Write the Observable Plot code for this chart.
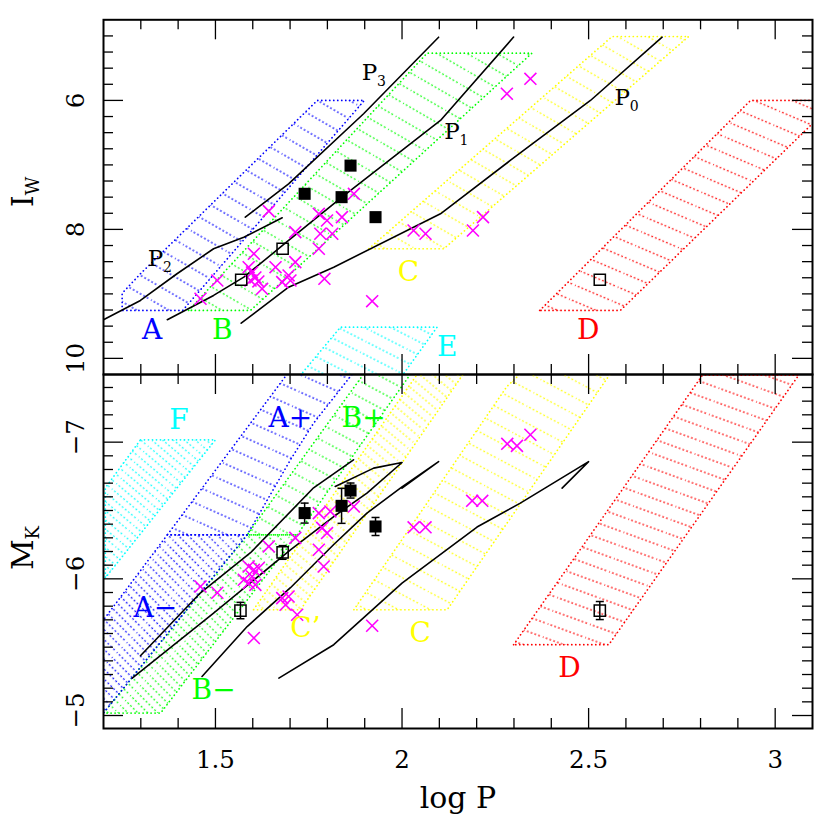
<!DOCTYPE html>
<html>
<head>
<meta charset="utf-8">
<script src="https://cdn.jsdelivr.net/npm/d3@7"></script>
<script src="https://cdn.jsdelivr.net/npm/@observablehq/plot@0.6"></script>
<style>
html,body{margin:0;padding:0;background:#fff;}
#wrap{position:relative;width:830px;height:830px;overflow:hidden;background:#fff;}
</style>
</head>
<body>
<div id="wrap"></div>
<script>
// ---------------- data ----------------
const xMajor = [1.5, 2, 2.5, 3];
const xMinor = d3.range(13, 31).map(v => v / 10).filter(v => !xMajor.includes(v));
const iwMajor = [6, 8, 10];
const iwMinor = d3.range(20, 41).map(v => v / 4).filter(v => !iwMajor.includes(v));
const mkMajor = [-7, -6, -5];
const mkMinor = d3.range(-74, -50).map(v => v / 10).filter(v => !mkMajor.includes(v));

// top panel (log P, I_W) regions
const topRegA = [[1.250,9.257],[1.250,8.99],[1.299,8.688],[1.773,6.0],[1.899,6.0],[1.412,9.257]];
const topRegB = [[1.428,9.257],[2.067,5.268],[2.348,5.268],[1.594,9.257]];
const topRegC = [[1.911,8.300],[2.563,5.009],[2.768,5.009],[2.112,8.300]];
const topRegD = [[2.369,9.257],[2.934,6.0],[3.164,6.0],[2.585,9.257]];
const topRegE = [[1.679,10.6],[1.835,9.516],[2.094,9.516],[1.959,10.6]];

// top panel model lines
const topP3 = [[1.580,7.810],[1.696,7.293],[1.897,6.207],[2.098,5.020]];
const topP2 = [[1.200,9.401],[1.299,9.102],[1.397,8.688],[1.495,8.300],[1.576,8.121],[1.679,7.820]];
const topP1 = [[1.371,9.401],[1.495,9.024],[1.576,8.740],[1.696,8.172],[1.839,7.500],[2.103,6.311],[2.299,5.018]];
const topP0 = [[1.569,9.454],[1.696,8.896],[1.817,8.586],[2.103,7.758],[2.290,6.931],[2.505,6.001],[2.697,5.020]];

// top panel stars
const topCrosses = [[1.643,7.717],[1.505,8.792],[1.460,9.076],[1.603,8.378],[1.589,8.586],[1.598,8.668],[1.607,8.745],[1.615,8.807],[1.625,8.921],[1.594,8.792],[1.714,8.043],[1.661,8.586],[1.714,8.508],[1.696,8.714],[1.679,8.818],[1.701,8.792],[1.777,7.758],[1.799,7.862],[1.839,7.810],[1.781,8.068],[1.813,8.068],[1.777,8.300],[1.792,8.766],[1.920,9.113],[1.871,7.448],[2.281,5.897],[2.344,5.665],[2.031,8.017],[2.063,8.068],[2.190,8.017],[2.217,7.810]];
const topFilled = [[1.739,7.448],[1.838,7.500],[1.862,7.011],[1.929,7.810]];
const topOpen = [[1.569,8.781],[1.680,8.300],[2.530,8.781]];

const topRegionLabels = [
  {t:"A", x:1.330, y:9.567, c:"#0000ff"},
  {t:"B", x:1.518, y:9.567, c:"#00ff00"},
  {t:"C", x:2.017, y:8.663, c:"#ffff00"},
  {t:"D", x:2.499, y:9.567, c:"#ff0000"},
  {t:"E", x:2.121, y:9.826, c:"#00ffff"}
];
const topModelLabels = [
  {x:1.913, y:5.567, s:"3"},
  {x:1.339, y:8.455, s:"2"},
  {x:2.134, y:6.477, s:"1"},
  {x:2.590, y:5.959, s:"0"}
];

// bottom panel (log P, M_K) regions
const botRegF = [[1.299,-7.017],[1.500,-7.017],[1.205,-6.008],[1.205,-6.666]];
const botRegAplus = [[1.720,-7.600],[1.896,-7.600],[1.763,-7.139],[1.701,-6.871],[1.585,-6.322],[1.371,-6.322]];
const botRegAminus = [[1.371,-6.322],[1.585,-6.322],[1.200,-5.018],[1.200,-5.700]];
const botRegBplus = [[1.924,-7.600],[2.049,-7.600],[1.719,-6.322],[1.585,-6.322]];
const botRegBminus = [[1.585,-6.322],[1.719,-6.322],[1.353,-5.018],[1.200,-5.018]];
const botRegCprime = [[1.602,-5.774],[1.728,-5.774],[2.190,-7.600],[2.067,-7.600]];
const botRegC = [[1.871,-5.774],[2.281,-7.407],[2.317,-7.50],[2.558,-7.50],[2.121,-5.774]];
const botRegD = [[2.299,-5.518],[2.805,-7.49],[3.063,-7.49],[2.554,-5.518]];

// bottom panel model lines
const botLineA = [[1.299,-5.437],[1.460,-5.898],[1.594,-6.191],[1.763,-6.666],[1.870,-6.871]];
const botLineB = [[1.277,-5.274],[1.495,-5.749],[1.701,-6.212],[1.817,-6.456],[1.906,-6.627],[2.000,-6.851],[1.924,-6.810],[1.821,-6.676]];
const botLineC = [[1.464,-5.286],[1.585,-5.651],[1.701,-5.935],[1.817,-6.251],[1.906,-6.481],[2.000,-6.673],[2.098,-6.858],[2.000,-6.663]];
const botLineD = [[1.670,-5.274],[1.817,-5.518],[2.000,-5.969],[2.201,-6.379],[2.317,-6.554],[2.500,-6.858],[2.429,-6.664]];

// bottom panel stars
const botCrosses = [[1.777,-6.481],[1.808,-6.493],[1.871,-6.529],[1.786,-6.373],[1.799,-6.335],[1.714,-6.300],[1.643,-6.237],[1.777,-6.213],[1.790,-6.090],[1.460,-5.944],[1.505,-5.898],[1.589,-6.090],[1.603,-6.066],[1.616,-6.079],[1.589,-5.969],[1.607,-5.956],[1.576,-5.993],[1.598,-6.017],[1.679,-5.859],[1.696,-5.871],[1.688,-5.810],[1.719,-5.737],[1.603,-5.567],[1.920,-5.657],[2.031,-6.377],[2.063,-6.377],[2.188,-6.571],[2.215,-6.571],[2.282,-6.988],[2.308,-6.973],[2.344,-7.054]];
const botFilled = [[1.739,-6.481,0.073],[1.838,-6.534,0.128],[1.862,-6.646,0.055],[1.929,-6.383,0.066]];
const botOpen = [[1.680,-6.193,0.050],[1.567,-5.768,0.060],[2.530,-5.768,0.066]];

const botRegionLabels = [
  {t:"F", x:1.402, y:-7.163, c:"#00ffff"},
  {t:"A+", x:1.701, y:-7.176, c:"#0000ff"},
  {t:"B+", x:1.897, y:-7.176, c:"#00ff00"},
  {t:"A\u2212", x:1.339, y:-5.786, c:"#0000ff"},
  {t:"B\u2212", x:1.495, y:-5.188, c:"#00ff00"},
  {t:"C\u2019", x:1.741, y:-5.640, c:"#ffff00"},
  {t:"C", x:2.049, y:-5.603, c:"#ffff00"},
  {t:"D", x:2.449, y:-5.347, c:"#ff0000"}
];

// ---------------- style ----------------
const FONT = "DejaVu Serif";
const W = 830, ML = 103, MR = 18;
const DOT = "0.1 3.9";

// hatch patterns
const defs = d3.select("body").append("svg")
  .attr("width", 0).attr("height", 0)
  .style("position", "absolute").style("left", "0").style("top", "0")
  .append("defs");
function hatch(id, color, angle, gap) {
  const p = defs.append("pattern").attr("id", id)
    .attr("patternUnits", "userSpaceOnUse")
    .attr("width", 40).attr("height", gap)
    .attr("patternTransform", `rotate(${angle})`);
  p.append("line").attr("x1", 0).attr("x2", 40).attr("y1", gap / 2).attr("y2", gap / 2)
    .attr("stroke", color).attr("stroke-width", 1.7)
    .attr("stroke-dasharray", DOT).attr("stroke-linecap", "round");
}
hatch("htblue", "#0000ff", 30, 16);
hatch("htgreen", "#00ff00", 30, 15);
hatch("htyellow", "#ffff00", 30, 15);
hatch("htred", "#ff0000", 23, 15);
hatch("htcyan", "#00ffff", 27, 12);
hatch("hbaplus", "#0000ff", 24, 16);
hatch("hbaminus", "#0000ff", 45, 7);
hatch("hbbplus", "#00ff00", 28, 14);
hatch("hbbminus", "#00ff00", 45, 7);
hatch("hbc", "#ffff00", 28, 15);
hatch("hbcprime", "#ffff00", 40, 8);
hatch("hbd", "#ff0000", 20, 14);
hatch("hbf", "#00ffff", 40, 7);

const poly = (pts, color, pat) => Plot.line(pts, {
  x: d => d[0], y: d => d[1], curve: "linear-closed",
  stroke: color, strokeWidth: 1.7, strokeDasharray: DOT, strokeLinecap: "round",
  fill: `url(#${pat})`, clip: true
});
const model = (pts, w = 1.6) => Plot.line(pts, {x: d => d[0], y: d => d[1], stroke: "black", strokeWidth: w, clip: true});
const crosses = pts => Plot.dot(pts, {x: d => d[0], y: d => d[1], symbol: "times", r: 5.5, stroke: "#ff00ff", strokeWidth: 1.6, fill: "none"});
const capSymbol = {draw(ctx) { ctx.moveTo(-4, 0); ctx.lineTo(4, 0); }};
const C = {textAnchor: "middle", lineAnchor: "middle"};

function ticks(fw, fh, yMaj, yMin) {
  const s = {stroke: "black", strokeWidth: 1.3};
  return [
    Plot.ruleX(xMajor, {x: d => d, insetTop: fh - 20, ...s}),
    Plot.ruleX(xMinor, {x: d => d, insetTop: fh - 10, ...s}),
    Plot.ruleX(xMajor, {x: d => d, insetBottom: fh - 20, ...s}),
    Plot.ruleX(xMinor, {x: d => d, insetBottom: fh - 10, ...s}),
    Plot.ruleY(yMaj, {y: d => d, insetRight: fw - 20, ...s}),
    Plot.ruleY(yMin, {y: d => d, insetRight: fw - 10, ...s}),
    Plot.ruleY(yMaj, {y: d => d, insetLeft: fw - 20, ...s}),
    Plot.ruleY(yMin, {y: d => d, insetLeft: fw - 10, ...s}),
    Plot.frame({stroke: "black", strokeWidth: 2})
  ];
}

function panel(cfg) {
  const fw = W - ML - MR, fh = cfg.h - cfg.mt - cfg.mb;
  const svg = Plot.plot({
    width: W, height: cfg.h,
    marginTop: cfg.mt, marginBottom: cfg.mb, marginLeft: ML, marginRight: MR,
    style: {fontFamily: FONT, background: "transparent", overflow: "visible", color: "black"},
    x: {domain: [1.2, 3.1], axis: null},
    y: {domain: cfg.yDomain, reverse: true, axis: null},
    color: {type: "identity"},
    marks: [...cfg.marks, ...ticks(fw, fh, cfg.yMaj, cfg.yMin)]
  });
  svg.style.position = "absolute";
  svg.style.left = "0px";
  svg.style.top = cfg.top + "px";
  return svg;
}

function yLabel(svg, x, y, main, sub) {
  const t = d3.select(svg).append("text")
    .attr("transform", `translate(${x},${y}) rotate(-90)`)
    .attr("text-anchor", "middle").attr("font-family", FONT)
    .attr("font-size", 30).attr("fill", "black");
  t.append("tspan").text(main);
  t.append("tspan").attr("font-size", 18).attr("dy", 6).text(sub);
}

const minus = d => d < 0 ? "\u2212" + Math.abs(d) : String(d);

// ---------------- top panel ----------------
const topSvg = panel({
  top: 0, h: 376, mt: 19.3, mb: 2,
  yDomain: [4.75, 10.25], yMaj: iwMajor, yMin: iwMinor,
  marks: [
    poly(topRegA, "#0000ff", "htblue"),
    poly(topRegB, "#00ff00", "htgreen"),
    poly(topRegC, "#ffff00", "htyellow"),
    poly(topRegD, "#ff0000", "htred"),
    poly(topRegE, "#00ffff", "htcyan"),
    model(topP3), model(topP2), model(topP1), model(topP0),
    crosses(topCrosses),
    Plot.dot(topFilled, {x: d => d[0], y: d => d[1], symbol: "square", r: 6.8, fill: "black", stroke: "none"}),
    Plot.dot(topOpen, {x: d => d[0], y: d => d[1], symbol: "square", r: 6.3, fill: "none", stroke: "black", strokeWidth: 1.5}),
    Plot.text(topRegionLabels, {x: "x", y: "y", text: "t", fill: "c", fontSize: 28, ...C}),
    Plot.text(topModelLabels, {x: "x", y: "y", text: () => "P", fontSize: 23, ...C}),
    Plot.text(topModelLabels, {x: "x", y: "y", text: "s", fontSize: 14, dx: 12, dy: 9, ...C}),
    Plot.text(iwMajor, {y: d => d, text: d => String(d), frameAnchor: "left", dx: -27, rotate: -90, fontSize: 24.5, ...C})
  ]
});

// ---------------- bottom panel ----------------
const botSvg = panel({
  top: 372, h: 458, mt: 2, mb: 102,
  yDomain: [-7.495, -4.905], yMaj: mkMajor, yMin: mkMinor,
  marks: [
    poly(botRegF, "#00ffff", "hbf"),
    poly(botRegC, "#ffff00", "hbc"),
    poly(botRegCprime, "#ffff00", "hbcprime"),
    poly(botRegBplus, "#00ff00", "hbbplus"),
    poly(botRegBminus, "#00ff00", "hbbminus"),
    poly(botRegAplus, "#0000ff", "hbaplus"),
    poly(botRegAminus, "#0000ff", "hbaminus"),
    poly(botRegD, "#ff0000", "hbd"),
    model(botLineA), model(botLineB), model(botLineC), model(botLineD),
    crosses(botCrosses),
    Plot.ruleX([...botFilled, ...botOpen], {x: d => d[0], y1: d => d[1] - d[2], y2: d => d[1] + d[2], stroke: "black", strokeWidth: 1.5}),
    Plot.dot([...botFilled, ...botOpen], {x: d => d[0], y: d => d[1] - d[2], symbol: capSymbol, stroke: "black", strokeWidth: 1.5, fill: "none"}),
    Plot.dot([...botFilled, ...botOpen], {x: d => d[0], y: d => d[1] + d[2], symbol: capSymbol, stroke: "black", strokeWidth: 1.5, fill: "none"}),
    Plot.dot(botFilled, {x: d => d[0], y: d => d[1], symbol: "square", r: 6.8, fill: "black", stroke: "none"}),
    Plot.dot(botOpen, {x: d => d[0], y: d => d[1], symbol: "square", r: 6.3, fill: "none", stroke: "black", strokeWidth: 1.5}),
    Plot.text(botRegionLabels, {x: "x", y: "y", text: "t", fill: "c", fontSize: 28, ...C}),
    Plot.text(mkMajor, {y: d => d, text: minus, frameAnchor: "left", dx: -27, dy: -5, rotate: -90, fontSize: 24.5, ...C}),
    Plot.text(xMajor, {x: d => d, text: d => String(d), frameAnchor: "bottom", dy: 32, fontSize: 24.5, ...C}),
    Plot.text(["log P"], {text: d => d, frameAnchor: "bottom", dy: 70, fontSize: 30, ...C})
  ]
});

const wrap = document.getElementById("wrap");
wrap.appendChild(topSvg);
wrap.appendChild(botSvg);
yLabel(topSvg, 33, 192, "I", "W");
yLabel(botSvg, 33, 176, "M", "K");
</script>
</body>
</html>
